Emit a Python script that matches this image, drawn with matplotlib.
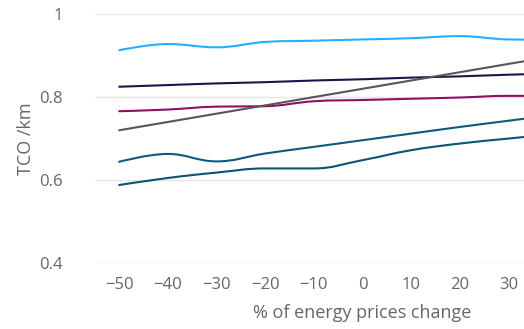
import matplotlib
matplotlib.use("Agg")
import matplotlib.pyplot as plt
from matplotlib.path import Path
from matplotlib.patches import PathPatch

plt.rcParams["font.family"] = ["Open Sans", "DejaVu Sans"]

energy_change = [-50, -40, -30, -20, -10, 0, 10, 20, 30, 40]

light_blue = [0.913, 0.928, 0.920, 0.933, 0.936, 0.939, 0.942, 0.947, 0.939, 0.938]
navy = [0.825, 0.829, 0.833, 0.836, 0.840, 0.843, 0.847, 0.850, 0.854, 0.857]
magenta = [0.766, 0.770, 0.777, 0.778, 0.790, 0.793, 0.796, 0.799, 0.803, 0.803]
gray = [0.720, 0.740, 0.760, 0.780, 0.800, 0.820, 0.840, 0.860, 0.880, 0.900]
teal_upper = [0.644, 0.663, 0.645, 0.664, 0.680, 0.696, 0.712, 0.728, 0.743, 0.758]
teal_lower = [0.588, 0.605, 0.618, 0.628, 0.628, 0.648, 0.672, 0.688, 0.700, 0.712]

series = [
    (light_blue, "#22b0ff"),
    (navy, "#21124a"),
    (magenta, "#8e1065"),
    (gray, "#575757"),
    (teal_upper, "#0d5a80"),
    (teal_lower, "#0b5479"),
]


def spline_path(xs, ys, smoothing=1.5):
    # Bezier control points in the same spirit as a Highcharts spline
    denom = smoothing + 1
    n = len(xs)
    left = [(xs[i], ys[i]) for i in range(n)]
    right = [(xs[i], ys[i]) for i in range(n)]
    for i in range(1, n - 1):
        lx = (smoothing * xs[i] + xs[i - 1]) / denom
        ly = (smoothing * ys[i] + ys[i - 1]) / denom
        rx = (smoothing * xs[i] + xs[i + 1]) / denom
        ry = (smoothing * ys[i] + ys[i + 1]) / denom
        if rx != lx:
            corr = (ry - ly) * (rx - xs[i]) / (rx - lx) + ys[i] - ry
            ly += corr
            ry += corr
        # avoid overshooting the neighbours
        if ly > ys[i - 1] and ly > ys[i]:
            ly = max(ys[i - 1], ys[i])
            ry = 2 * ys[i] - ly
        elif ly < ys[i - 1] and ly < ys[i]:
            ly = min(ys[i - 1], ys[i])
            ry = 2 * ys[i] - ly
        if ry > ys[i + 1] and ry > ys[i]:
            ry = max(ys[i + 1], ys[i])
            ly = 2 * ys[i] - ry
        elif ry < ys[i + 1] and ry < ys[i]:
            ry = min(ys[i + 1], ys[i])
            ly = 2 * ys[i] - ry
        left[i] = (lx, ly)
        right[i] = (rx, ry)
    verts = [(xs[0], ys[0])]
    codes = [Path.MOVETO]
    for i in range(1, n):
        verts += [right[i - 1], left[i], (xs[i], ys[i])]
        codes += [Path.CURVE4] * 3
    return Path(verts, codes)


fig = plt.figure(figsize=(5.24, 3.29), dpi=100)
ax = fig.add_axes([0.181, 0.2006, 0.819, 0.7564])

for values, color in series:
    patch = PathPatch(spline_path(energy_change, values), facecolor="none",
                      edgecolor=color, linewidth=1.5, capstyle="round",
                      joinstyle="round", zorder=3)
    ax.add_patch(patch)

ax.set_xlim(-55, 33.2)
ax.set_ylim(0.4, 1.0)
ax.set_xticks([-50, -40, -30, -20, -10, 0, 10, 20, 30])
ax.set_yticks([0.4, 0.6, 0.8, 1.0])
ax.set_yticklabels(["0.4", "0.6", "0.8", "1"])
ax.set_xticklabels(["\u221250", "\u221240", "\u221230", "\u221220", "\u221210",
                    "0", "10", "20", "30"])

for v in [0.6, 0.8, 1.0]:
    ax.axhline(v, color="#e6e6e6", linewidth=1, zorder=1)
ax.axhline(0.4, color="#ccd6eb", linewidth=1, zorder=1)

for side in ["top", "right", "left", "bottom"]:
    ax.spines[side].set_visible(False)
ax.tick_params(axis="both", length=0, labelsize=12, colors="#666666")
ax.tick_params(axis="x", pad=10)
ax.tick_params(axis="y", pad=23)

# the original plot area runs past the right edge, so the title sits off-centre
ax.set_xlabel("% of energy prices change", fontsize=13, color="#666666")
ax.xaxis.set_label_coords(0.622, -0.165)
ax.set_ylabel("TCO /km", fontsize=13, color="#666666")
ax.yaxis.set_label_coords(-0.14, 0.5)

fig.savefig("out.png", dpi=100)
